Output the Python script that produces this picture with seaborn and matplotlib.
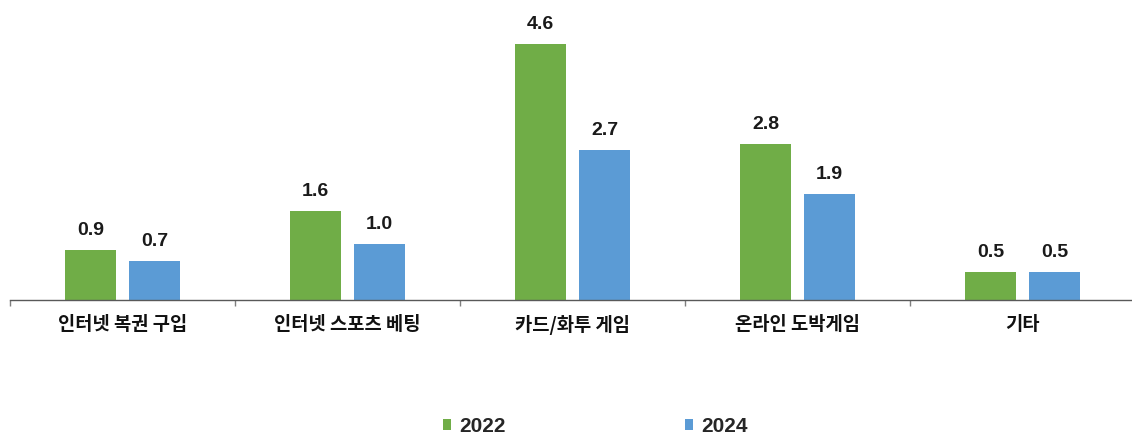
import matplotlib
matplotlib.use("Agg")
import matplotlib.pyplot as plt
import matplotlib.patches as mpatches
import pandas as pd
import seaborn as sns

categories = ["인터넷 복권 구입", "인터넷 스포츠 베팅", "카드/화투 게임", "온라인 도박게임", "기타"]
years = ["2022", "2024"]
values_2022 = [0.9, 1.6, 4.6, 2.8, 0.5]
values_2024 = [0.7, 1.0, 2.7, 1.9, 0.5]
colors = ["#70AD47", "#5B9BD5"]

df = pd.DataFrame({
    "category": categories * 2,
    "year": [years[0]] * len(categories) + [years[1]] * len(categories),
    "value": values_2022 + values_2024,
})

sns.set_theme(style="white")
plt.rcParams["font.family"] = ["Liberation Sans", "Noto Sans CJK KR", "DejaVu Sans"]

fig = plt.figure(figsize=(11.32, 4.37), dpi=100)
ax = fig.add_axes([10 / 1132, 137 / 437, 1125 / 1132, 300 / 437])

sns.barplot(data=df, x="category", y="value", hue="year", order=categories,
            hue_order=years, palette=colors, width=0.569, gap=0.21,
            saturation=1, legend=False, linewidth=0, ax=ax)

ax.set_xlim(-0.5, 4.5)
ax.set_ylim(0, 5.4)
ax.set_xlabel("")
ax.set_ylabel("")
ax.set_yticks([])

for container in ax.containers:
    ax.bar_label(container, fmt="%.1f", padding=8, fontsize=14,
                 fontweight="bold", color="#1a1a1a")

for side in ["top", "left", "right"]:
    ax.spines[side].set_visible(False)
ax.spines["bottom"].set_color("#595959")
ax.spines["bottom"].set_linewidth(1.0)

ax.set_xticks(range(len(categories)))
ax.set_xticklabels(categories, fontsize=13.5, fontweight="bold",
                   family=["Noto Sans CJK KR", "DejaVu Sans"], color="#111111")
ax.tick_params(axis="x", which="major", length=0, pad=11)
ax.set_xticks([i - 0.5 for i in range(len(categories) + 1)], minor=True)
ax.tick_params(axis="x", which="minor", bottom=True, direction="out",
               length=4, width=1, color="#7f7f7f")

handles = [mpatches.Patch(facecolor=c, edgecolor="none", label=y)
           for c, y in zip(colors, years)]
fig.legend(handles=handles, loc="center", bbox_to_anchor=(0.526, 0.024),
           ncol=2, frameon=False,
           prop={"weight": "bold", "size": 15},
           handlelength=0.4, handleheight=0.4, handletextpad=0.4,
           columnspacing=8.6)

fig.savefig("out.png", dpi=100)
